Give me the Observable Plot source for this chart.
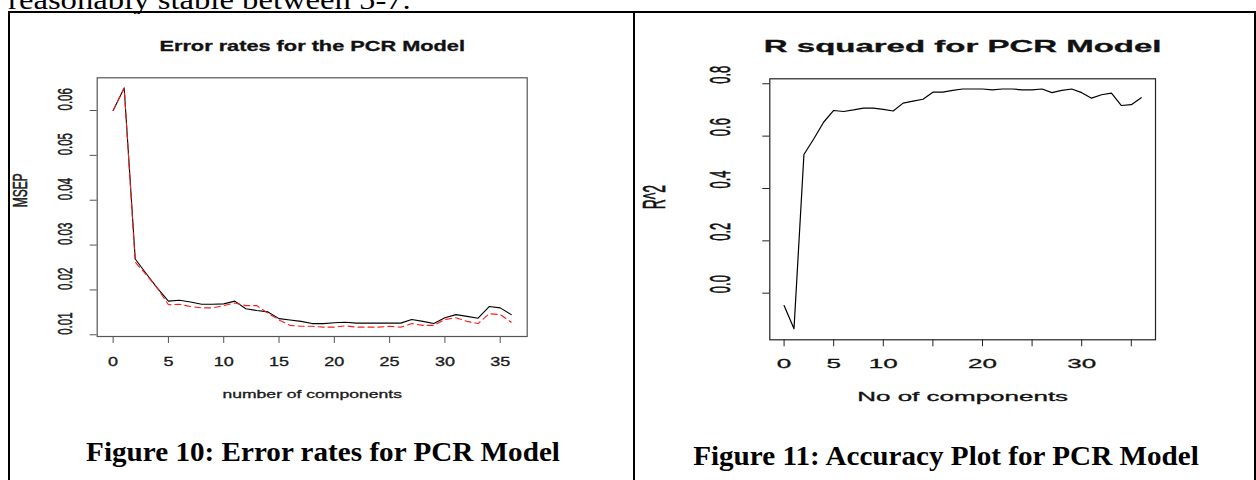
<!DOCTYPE html>
<html>
<head>
<meta charset="utf-8">
<script src="https://cdn.jsdelivr.net/npm/d3@7"></script>
<script src="https://cdn.jsdelivr.net/npm/@observablehq/plot@0.6"></script>
<style>
  html, body { margin: 0; padding: 0; background: #fff; }
  body { width: 1256px; height: 480px; position: relative; overflow: hidden; }
  .abs { position: absolute; }
  .line { position: absolute; background: #000; }
  .cap { position: absolute; width: 640px; text-align: center; font-family: "Liberation Serif", "Times New Roman", serif; font-weight: bold; font-size: 26.5px; line-height: 1; color: #000; transform: scaleX(1.1); transform-origin: center; white-space: nowrap; }
  .doc { position: absolute; left: 8px; top: -13px; font-family: "Liberation Serif", "Times New Roman", serif; font-size: 27px; line-height: 1; color: #000; transform: scaleX(1.21); transform-origin: left; white-space: nowrap; }
</style>
</head>
<body>
<div class="doc">reasonably stable between 5-7.</div>
<div class="line" style="left:8px; top:11px; width:1248px; height:2px;"></div>
<div class="line" style="left:8px; top:11px; width:2px; height:469px;"></div>
<div class="line" style="left:633px; top:11px; width:2px; height:469px;"></div>
<div class="line" style="left:1254px; top:11px; width:2px; height:469px;"></div>
<div id="left" class="abs" style="left:10px; top:14px;"></div>
<div id="right" class="abs" style="left:636px; top:14px;"></div>
<div class="cap" style="left:3px; top:439px;">Figure 10: Error rates for PCR Model</div>
<div class="cap" style="left:626px; top:443px;">Figure 11: Accuracy Plot for PCR Model</div>
<script>
// ---- data ----
const components = [0,1,2,3,4,5,6,7,8,9,10,11,12,13,14,15,16,17,18,19,20,21,22,23,24,25,26,27,28,29,30,31,32,33,34,35,36];
const msepCV = [0.0600,0.0650,0.0269,0.0236,0.0204,0.0175,0.0177,0.0173,0.0168,0.0168,0.0169,0.0175,0.0158,0.0154,0.0151,0.0136,0.0133,0.0130,0.0125,0.0125,0.0127,0.0128,0.0126,0.0126,0.0126,0.0126,0.0126,0.0134,0.0130,0.0125,0.0138,0.0145,0.0141,0.0137,0.0163,0.0160,0.0145];
const msepAdjCV = [0.0600,0.0650,0.0262,0.0234,0.0204,0.0167,0.0168,0.0163,0.0160,0.0160,0.0165,0.0171,0.0165,0.0165,0.0148,0.0133,0.0121,0.0119,0.0119,0.0117,0.0117,0.0120,0.0117,0.0117,0.0117,0.0119,0.0117,0.0125,0.0121,0.0121,0.0134,0.0138,0.0130,0.0125,0.0147,0.0145,0.0128];
const rSquared = [-0.047,-0.136,0.530,0.590,0.654,0.698,0.694,0.700,0.707,0.707,0.702,0.696,0.726,0.734,0.741,0.768,0.768,0.775,0.780,0.780,0.780,0.777,0.780,0.780,0.777,0.777,0.780,0.766,0.775,0.780,0.766,0.745,0.758,0.764,0.717,0.720,0.747];

const leftXTicks = [0,5,10,15,20,25,30,35];
const leftYTicks = [0.01,0.02,0.03,0.04,0.05,0.06];
const rightXTicks = [0,5,10,15,20,25,30,35];
const rightXLabels = [0,5,10,20,30];
const rightYTicks = [0.0,0.2,0.4,0.6,0.8];

const leftTitle = "Error rates for the PCR Model";
const leftXLabel = "number of components";
const leftYLabel = "MSEP";
const rightTitle = "R squared for PCR Model";
const rightXLabel = "No of components";
const rightYLabel = "R^2";

const cvRows = components.map((c, i) => ({c, v: msepCV[i]}));
const adjRows = components.map((c, i) => ({c, v: msepAdjCV[i]}));
const r2Rows = components.map((c, i) => ({c, v: rSquared[i]}));

function stretch(svg, sH, sR) {
  svg.querySelectorAll("text").forEach(t => {
    const tr = t.getAttribute("transform") || "";
    t.setAttribute("transform", tr + (tr.includes("rotate") ? ` scale(1,${sR})` : ` scale(${sH},1)`));
    t.setAttribute("stroke", t.getAttribute("fill") || "#111");
    t.setAttribute("stroke-width", "0.3");
  });
}

// ---- left chart ----
const leftSvg = Plot.plot({
  width: 622, height: 420,
  marginLeft: 86.7, marginRight: 105.3, marginTop: 63.3, marginBottom: 98,
  style: {fontFamily: "'Liberation Sans', Arial, sans-serif", background: "#fff", overflow: "visible", color: "#222"},
  x: {domain: [-1.44, 37.44]},
  y: {domain: [0.00962, 0.06729]},
  marks: [
    Plot.frame({stroke: "#555", strokeWidth: 1.2}),
    Plot.axisX({ticks: leftXTicks, tickSize: 7, tickFormat: () => "", stroke: "#555", label: null}),
    Plot.axisY({ticks: leftYTicks, tickSize: 7, tickFormat: () => "", stroke: "#555", label: null}),
    Plot.text(leftXTicks, {x: d => d, frameAnchor: "bottom", dy: 26, text: d => String(d), lineAnchor: "middle", fontSize: 12, fill: "#222"}),
    Plot.text(leftYTicks, {y: d => d, frameAnchor: "left", dx: -31.7, text: d => d3.format(".2f")(d), rotate: -90, lineAnchor: "middle", fontSize: 11.5, fill: "#222"}),
    Plot.line(cvRows, {x: "c", y: "v", stroke: "#000", strokeWidth: 1.1}),
    Plot.line(adjRows, {x: "c", y: "v", stroke: "#ff1a1a", strokeWidth: 1.1, strokeDasharray: "6,4"}),
    Plot.text([leftTitle], {frameAnchor: "top", dy: -31, text: d => d, fontWeight: "bold", fontSize: 14.5, lineAnchor: "middle", fill: "#111"}),
    Plot.text([leftXLabel], {frameAnchor: "bottom", dy: 58, text: d => d, fontSize: 11.7, lineAnchor: "middle", fill: "#222"}),
    Plot.text([leftYLabel], {frameAnchor: "left", dx: -76.7, text: d => d, rotate: -90, fontSize: 12, lineAnchor: "middle", fill: "#222"})
  ]
});
stretch(leftSvg, 1.5, 1.7);
document.getElementById("left").appendChild(leftSvg);

// ---- right chart ----
const rightSvg = Plot.plot({
  width: 617, height: 420,
  marginLeft: 133.3, marginRight: 98, marginTop: 64.3, marginBottom: 94.7,
  style: {fontFamily: "'Liberation Sans', Arial, sans-serif", background: "#fff", overflow: "visible", color: "#111"},
  x: {domain: [-1.44, 37.44]},
  y: {domain: [-0.178, 0.819]},
  marks: [
    Plot.frame({stroke: "#222", strokeWidth: 1.2}),
    Plot.axisX({ticks: rightXTicks, tickSize: 7, tickFormat: () => "", stroke: "#222", label: null}),
    Plot.axisY({ticks: rightYTicks, tickSize: 7, tickFormat: () => "", stroke: "#222", label: null}),
    Plot.text(rightXLabels, {x: d => d, frameAnchor: "bottom", dy: 24, text: d => String(d), lineAnchor: "middle", fontSize: 13, fill: "#111"}),
    Plot.text(rightYTicks, {y: d => d, frameAnchor: "left", dx: -49, text: d => d3.format(".1f")(d), rotate: -90, lineAnchor: "middle", fontSize: 13, fill: "#111"}),
    Plot.line(r2Rows, {x: "c", y: "v", stroke: "#000", strokeWidth: 1.2}),
    Plot.text([rightTitle], {frameAnchor: "top", dy: -32, text: d => d, fontWeight: "bold", fontSize: 16.5, lineAnchor: "middle", fill: "#111"}),
    Plot.text([rightXLabel], {frameAnchor: "bottom", dy: 57.4, text: d => d, fontSize: 13, lineAnchor: "middle", fill: "#111"}),
    Plot.text([rightYLabel], {frameAnchor: "left", dx: -114.3, text: d => d, rotate: -90, fontSize: 14, lineAnchor: "middle", fill: "#111"})
  ]
});
stretch(rightSvg, 2.0, 2.2);
document.getElementById("right").appendChild(rightSvg);
</script>
</body>
</html>
